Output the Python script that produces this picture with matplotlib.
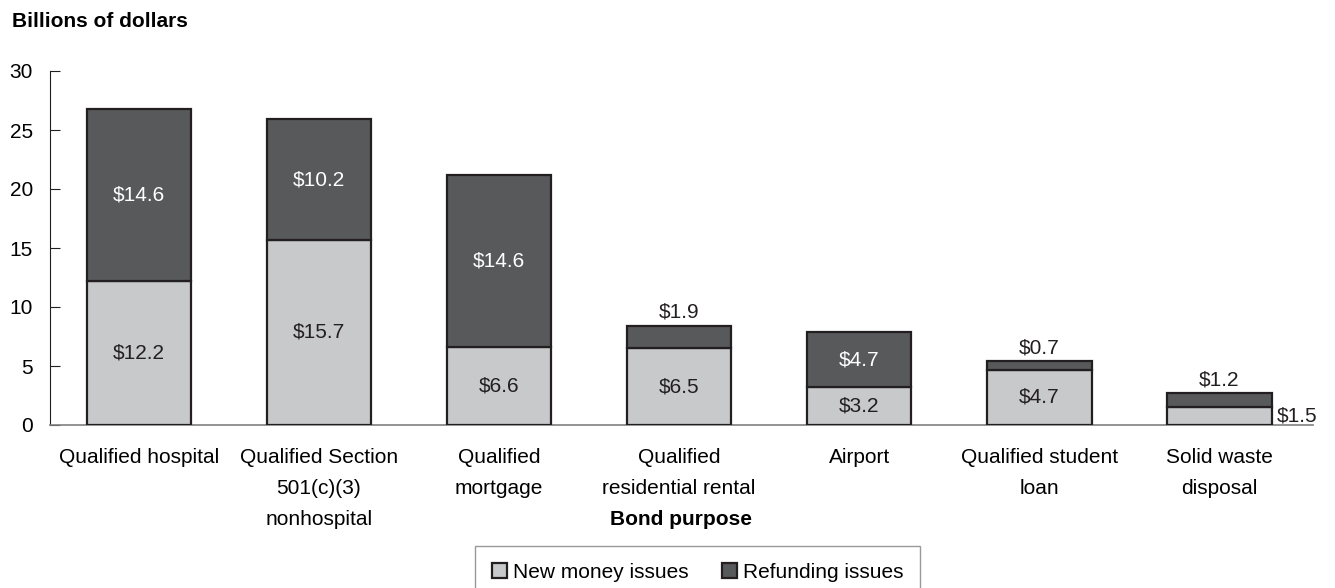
import numpy as np
import matplotlib.pyplot as plt

plt.rcParams['font.family'] = ['Liberation Sans', 'DejaVu Sans']

categories = ["Qualified hospital", "Qualified Section\n501(c)(3)\nnonhospital",
              "Qualified\nmortgage", "Qualified\nresidential rental", "Airport",
              "Qualified student\nloan", "Solid waste\ndisposal"]
new_money = [12.2, 15.7, 6.6, 6.5, 3.2, 4.7, 1.5]
refunding = [14.6, 10.2, 14.6, 1.9, 4.7, 0.7, 1.2]

light = '#c8c9cb'
dark = '#58595b'
edge = '#231f20'

fig = plt.figure(figsize=(13.35, 5.88), dpi=100)
ax = fig.add_axes([50/1335, 1-425/588, (1313-50)/1335, (425-71)/588])

x = np.arange(len(categories))
w = 0.58
b1 = ax.bar(x, new_money, w, color=light, edgecolor=edge, linewidth=1.6, label='New money issues', zorder=3)
b2 = ax.bar(x, refunding, w, bottom=new_money, color=dark, edgecolor=edge, linewidth=1.6, label='Refunding issues', zorder=3)

fs = 15
for i in range(len(x)):
    nm, rf = new_money[i], refunding[i]
    if i == 6:
        # last bar: new money label sits to the right of the bar
        ax.text(x[i] + w/2 + 0.03, nm / 2, f'${nm}', ha='left', va='center', fontsize=fs, color=edge)
    else:
        ax.text(x[i], nm / 2, f'${nm}', ha='center', va='center', fontsize=fs, color=edge)
    if rf >= 3:
        ax.text(x[i], nm + rf / 2, f'${rf}', ha='center', va='center', fontsize=fs, color='white')
    else:
        ax.text(x[i], nm + rf + 0.35, f'${rf}', ha='center', va='bottom', fontsize=fs, color=edge)

ax.set_xlim(-0.494, 6.52)
ax.set_ylim(0, 30)
ax.set_yticks([0, 5, 10, 15, 20, 25, 30])
ax.set_xticks(x)
ax.set_xticklabels(categories, fontsize=fs, linespacing=1.8, va='top')
ax.tick_params(axis='x', length=0, pad=16.5)
ax.tick_params(axis='y', direction='in', length=7, labelsize=15, pad=12.3, color=edge)
for s in ['top', 'right']:
    ax.spines[s].set_visible(False)
ax.spines['left'].set_color(edge)
ax.spines['bottom'].set_color('#808080')
ax.spines['bottom'].set_linewidth(1.2)

fig.text(12/1335, 1-27/588, 'Billions of dollars', fontsize=15, fontweight='bold', va='baseline', ha='left')
fig.text(681/1335, 1-525/588, 'Bond purpose', fontsize=15, fontweight='bold', va='baseline', ha='center')

leg = fig.legend(handles=[b1, b2], loc='center', bbox_to_anchor=(697.5/1335, 1-572/588), ncol=2,
                 fontsize=fs, frameon=True, fancybox=False, handlelength=0.72, handleheight=0.72,
                 handletextpad=0.3, columnspacing=1.6, borderpad=0.8)
leg.get_frame().set_edgecolor('#808080')
leg.get_frame().set_linewidth(1.0)

fig.savefig('out.png', dpi=100)
